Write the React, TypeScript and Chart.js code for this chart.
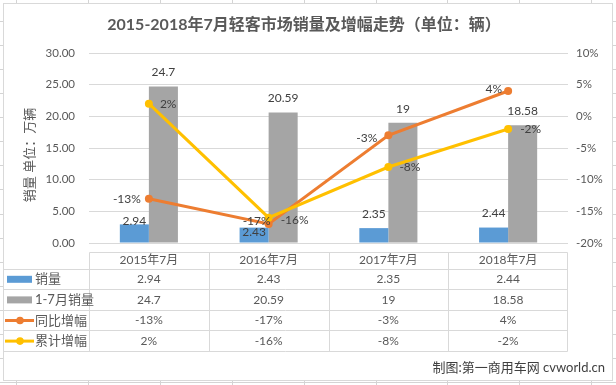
import React, { useEffect, useRef } from 'react';
import { Chart, registerables } from 'chart.js';

Chart.register(...registerables);

const categories = ['2015年7月', '2016年7月', '2017年7月', '2018年7月'];
const seriesNames = ['销量', '1-7月销量', '同比增幅', '累计增幅'];
const monthSales = [2.94, 2.43, 2.35, 2.44];
const ytdSales = [24.7, 20.59, 19, 18.58];
const yoyGrowth = [-13, -17, -3, 4];
const ytdGrowth = [2, -16, -8, -2];
const chartTitle = '2015-2018年7月轻客市场销量及增幅走势（单位：辆）';
const leftAxisTitle = '销量 单位：万辆';
const footerText = '制图:第一商用车网 cvworld.cn';

const FONT = '"Lato", "Noto Sans CJK SC", sans-serif';
const BLUE = '#5B9BD5';
const GRAY = '#A5A5A5';
const ORANGE = '#ED7D31';
const YELLOW = '#FFC000';
const TEXT = '#595959';
const LABEL = '#404040';
const LINE = '#D9D9D9';

// label placement tweaks (pixels), not data
const monthLabelLift = [3, -5, 14, 14];
const yoyLabelNudge = [[0, 0], [10, -3], [-3, 3], [2, -2]];
const ytdLabelNudge = [[0, 0], [1, 2], [0, 0], [1, 0]];

const fmtPct = (v: number) => `${v}%`;

const excelPlugin = {
  id: 'excelLook',
  beforeDraw(chart: any) {
    const ctx = chart.ctx as CanvasRenderingContext2D;
    const W = chart.width;
    const H = chart.height;
    ctx.save();
    ctx.fillStyle = '#ffffff';
    ctx.fillRect(0, 0, W, H);
    ctx.strokeStyle = '#D4D4D4';
    ctx.lineWidth = 1;
    for (let x = 16; x < W; x += 71.9) {
      const px = Math.round(x) + 0.5;
      ctx.beginPath();
      ctx.moveTo(px, 0);
      ctx.lineTo(px, H);
      ctx.stroke();
    }
    for (let y = 20.8; y < H; y += 24.1) {
      const py = Math.round(y) + 0.5;
      ctx.beginPath();
      ctx.moveTo(0, py);
      ctx.lineTo(W, py);
      ctx.stroke();
    }
    ctx.fillStyle = '#ffffff';
    ctx.fillRect(3, 3, 609, 377);
    ctx.strokeStyle = LINE;
    ctx.strokeRect(3.5, 3.5, 609, 377);
    ctx.restore();
  },
  afterDatasetsDraw(chart: any) {
    const ctx = chart.ctx as CanvasRenderingContext2D;
    ctx.save();
    ctx.font = `12px ${FONT}`;
    ctx.fillStyle = LABEL;
    ctx.textBaseline = 'middle';
    ctx.textAlign = 'center';
    const mBlue = chart.getDatasetMeta(0);
    mBlue.data.forEach((el: any, i: number) => {
      ctx.fillText(String(monthSales[i]), el.x, el.y - monthLabelLift[i]);
    });
    const mGray = chart.getDatasetMeta(1);
    mGray.data.forEach((el: any, i: number) => {
      ctx.fillText(String(ytdSales[i]), el.x, el.y - 14);
    });
    const mYoy = chart.getDatasetMeta(2);
    ctx.textAlign = 'right';
    mYoy.data.forEach((el: any, i: number) => {
      ctx.fillText(fmtPct(yoyGrowth[i]), el.x - 8 + yoyLabelNudge[i][0], el.y + yoyLabelNudge[i][1]);
    });
    const mYtd = chart.getDatasetMeta(3);
    ctx.textAlign = 'left';
    mYtd.data.forEach((el: any, i: number) => {
      ctx.fillText(fmtPct(ytdGrowth[i]), el.x + 11 + ytdLabelNudge[i][0], el.y + ytdLabelNudge[i][1]);
    });
    ctx.restore();
  },
  afterDraw(chart: any) {
    const ctx = chart.ctx as CanvasRenderingContext2D;
    const area = chart.chartArea;
    const xs = chart.scales.x;
    ctx.save();

    ctx.font = `bold 16px ${FONT}`;
    ctx.fillStyle = TEXT;
    ctx.textAlign = 'center';
    ctx.textBaseline = 'middle';
    ctx.fillText(chartTitle, 304, 25);

    ctx.save();
    ctx.translate(30, 155);
    ctx.rotate(-Math.PI / 2);
    ctx.font = `13px ${FONT}`;
    ctx.fillStyle = TEXT;
    ctx.fillText(leftAxisTitle, 0, 0);
    ctx.restore();

    const n = categories.length;
    const colW = (area.right - area.left) / n;
    const top = area.bottom + 8.5;
    const headerH = 17;
    const rowH = 20.6;
    const rowTops = [top, top + headerH];
    for (let r = 1; r <= 4; r++) rowTops.push(top + headerH + r * rowH);
    const bottom = rowTops[rowTops.length - 1];
    const frameLeft = 3.5;
    const rightX = Math.round(area.right) - 0.5;

    ctx.strokeStyle = LINE;
    ctx.lineWidth = 1;
    rowTops.forEach((y, idx) => {
      const py = Math.round(y) + 0.5;
      ctx.beginPath();
      ctx.moveTo(idx === 0 ? Math.round(area.left) + 0.5 : frameLeft, py);
      ctx.lineTo(rightX, py);
      ctx.stroke();
    });
    for (let k = 0; k <= n; k++) {
      const px = k === n ? rightX : Math.round(area.left + k * colW) + 0.5;
      ctx.beginPath();
      ctx.moveTo(px, Math.round(top) + 0.5);
      ctx.lineTo(px, Math.round(bottom) + 0.5);
      ctx.stroke();
    }

    ctx.font = `12px ${FONT}`;
    ctx.fillStyle = TEXT;
    ctx.textAlign = 'center';
    ctx.textBaseline = 'middle';
    categories.forEach((c, i) => {
      ctx.fillText(c, xs.getPixelForValue(i), top + headerH / 2 + 0.5);
    });
    const rows = [
      monthSales.map((v) => String(v)),
      ytdSales.map((v) => String(v)),
      yoyGrowth.map(fmtPct),
      ytdGrowth.map(fmtPct),
    ];
    rows.forEach((vals, r) => {
      const cy = rowTops[r + 1] + rowH / 2 + 0.5;
      vals.forEach((v, i) => {
        ctx.fillText(v, xs.getPixelForValue(i), cy);
      });
    });

    const colors = [BLUE, GRAY, ORANGE, YELLOW];
    seriesNames.forEach((name, r) => {
      const cy = rowTops[r + 1] + rowH / 2 + 0.5;
      if (r < 2) {
        ctx.fillStyle = colors[r];
        ctx.fillRect(7, cy - 3.5, 25, 7);
      } else {
        ctx.strokeStyle = colors[r];
        ctx.lineWidth = 3;
        ctx.beginPath();
        ctx.moveTo(5, cy);
        ctx.lineTo(34, cy);
        ctx.stroke();
        ctx.fillStyle = colors[r];
        ctx.beginPath();
        ctx.arc(20, cy, 3.8, 0, Math.PI * 2);
        ctx.fill();
      }
      ctx.fillStyle = TEXT;
      ctx.textAlign = 'left';
      ctx.font = `13px ${FONT}`;
      ctx.fillText(name, 35, cy);
    });

    ctx.font = `13px ${FONT}`;
    ctx.fillStyle = LABEL;
    ctx.textAlign = 'right';
    ctx.fillText(footerText, 605, 368);
    ctx.restore();
  },
};

export default function App() {
  const canvasRef = useRef<HTMLCanvasElement | null>(null);

  useEffect(() => {
    document.body.style.margin = '0';
    const canvas = canvasRef.current;
    if (!canvas) return;
    const chart = new Chart(canvas, {
      type: 'bar',
      data: {
        labels: categories,
        datasets: [
          {
            type: 'bar',
            label: seriesNames[0],
            data: monthSales,
            backgroundColor: BLUE,
            borderWidth: 0,
            yAxisID: 'y',
            order: 2,
            categoryPercentage: 0.485,
            barPercentage: 1,
          },
          {
            type: 'bar',
            label: seriesNames[1],
            data: ytdSales,
            backgroundColor: GRAY,
            borderWidth: 0,
            yAxisID: 'y',
            order: 3,
            categoryPercentage: 0.485,
            barPercentage: 1,
          },
          {
            type: 'line',
            label: seriesNames[2],
            data: yoyGrowth,
            borderColor: ORANGE,
            backgroundColor: ORANGE,
            borderWidth: 3,
            pointRadius: 4,
            pointBorderWidth: 0,
            pointBackgroundColor: ORANGE,
            tension: 0,
            yAxisID: 'y1',
            order: 1,
          },
          {
            type: 'line',
            label: seriesNames[3],
            data: ytdGrowth,
            borderColor: YELLOW,
            backgroundColor: YELLOW,
            borderWidth: 3,
            pointRadius: 4,
            pointBorderWidth: 0,
            pointBackgroundColor: YELLOW,
            tension: 0,
            yAxisID: 'y1',
            order: 0,
          },
        ] as any,
      },
      options: {
        animation: false,
        responsive: false,
        devicePixelRatio: 1,
        layout: { padding: { left: 4, right: 4, top: 53, bottom: 142 } },
        plugins: {
          legend: { display: false },
          tooltip: { enabled: false },
          title: { display: false },
        },
        scales: {
          x: { display: false, offset: true },
          y: {
            position: 'left',
            min: 0,
            max: 30,
            ticks: {
              stepSize: 5,
              padding: 14,
              color: TEXT,
              font: { size: 11.5, family: FONT },
              callback: (v: any) => Number(v).toFixed(2),
            },
            grid: { color: LINE, drawTicks: false },
            border: { display: false },
            afterFit: (s: any) => {
              s.width = 85;
            },
          },
          y1: {
            position: 'right',
            min: -20,
            max: 10,
            ticks: {
              stepSize: 5,
              padding: 8,
              color: TEXT,
              font: { size: 11.5, family: FONT },
              callback: (v: any) => `${v}%`,
            },
            grid: { display: false, drawTicks: false },
            border: { display: false },
            afterFit: (s: any) => {
              s.width = 44;
            },
          },
        },
      } as any,
      plugins: [excelPlugin],
    });
    return () => chart.destroy();
  }, []);

  return (
    <div style={{ width: 616, height: 385 }}>
      <canvas ref={canvasRef} width={616} height={385} style={{ display: 'block' }} />
    </div>
  );
}
